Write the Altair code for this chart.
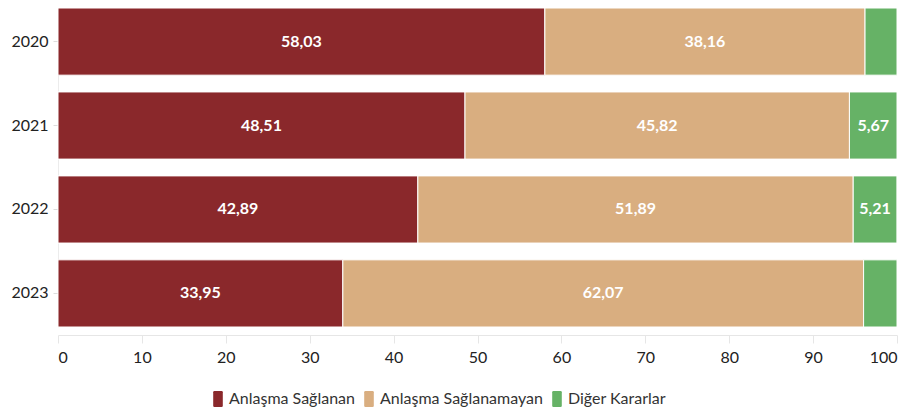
import altair as alt
import pandas as pd

years = ["2020", "2021", "2022", "2023"]
categories = ["Anlaşma Sağlanan", "Anlaşma Sağlanamayan", "Diğer Kararlar"]
saglanan = [58.03, 48.51, 42.89, 33.95]
saglanamayan = [38.16, 45.82, 51.89, 62.07]
diger = [3.81, 5.67, 5.21, 3.98]
colors = ["#8A282B", "#D9AE80", "#66B266"]

rows = []
for i, y in enumerate(years):
    for j, (c, vals) in enumerate(zip(categories, [saglanan, saglanamayan, diger])):
        rows.append({"year": y, "cat": c, "order": j, "value": vals[i],
                     "label": f"{vals[i]:.2f}".replace(".", ",")})
df = pd.DataFrame(rows)

FONT = "Lato"
ROUNDED = ("M-0.6,-0.85 Q-0.6,-1 -0.45,-1 L0.45,-1 Q0.6,-1 0.6,-0.85 "
           "L0.6,0.85 Q0.6,1 0.45,1 L-0.45,1 Q-0.6,1 -0.6,0.85 Z")

base = alt.Chart(df).transform_stack(
    stack="value", groupby=["year"], as_=["x0", "x1"],
    sort=[alt.SortField("order", order="ascending")]
).transform_calculate(mid="(datum.x0 + datum.x1) / 2")

yenc = alt.Y("year:N", sort=years, title=None,
             scale=alt.Scale(paddingInner=0.2, paddingOuter=0),
             axis=alt.Axis(labelFontSize=16, labelColor="#222", labelFont=FONT,
                           domain=True, domainColor="#ececec", tickColor="#ddd",
                           tickSize=5, labelPadding=5))

bars = base.mark_bar(stroke="white", strokeWidth=1).encode(
    x=alt.X("x0:Q", scale=alt.Scale(domain=[0, 100], nice=False), title=None,
            axis=alt.Axis(values=list(range(0, 101, 10)), labelFontSize=16, labelColor="#222",
                          labelFont=FONT, domainColor="#e6e6e6", tickColor="#e6e6e6",
                          tickSize=8, grid=False, offset=8, labelPadding=6)),
    x2="x1:Q",
    y=yenc,
    color=alt.Color("cat:N", sort=categories,
                    scale=alt.Scale(domain=categories, range=colors),
                    legend=alt.Legend(title=None, orient="none", direction="horizontal",
                                      legendX=152, legendY=383, labelFontSize=16,
                                      labelColor="#333", labelFont=FONT, symbolType=ROUNDED,
                                      symbolSize=256, symbolStrokeWidth=0, columnPadding=6,
                                      labelOffset=3, labelLimit=400)),
)

labels = base.transform_filter("datum.value >= 5").mark_text(
    color="white", fontWeight="bold", fontSize=16, font=FONT
).encode(
    x=alt.X("mid:Q"),
    y=alt.Y("year:N", sort=years),
    text="label:N",
)

chart = alt.layer(bars, labels).properties(
    width=839, height=319,
    autosize=alt.AutoSizeParams(type="none"),
    padding={"left": 50, "top": 0, "right": 8, "bottom": 85},
).configure_view(stroke=None)

chart.save("out.html", embed_options={"renderer": "svg", "actions": False})
